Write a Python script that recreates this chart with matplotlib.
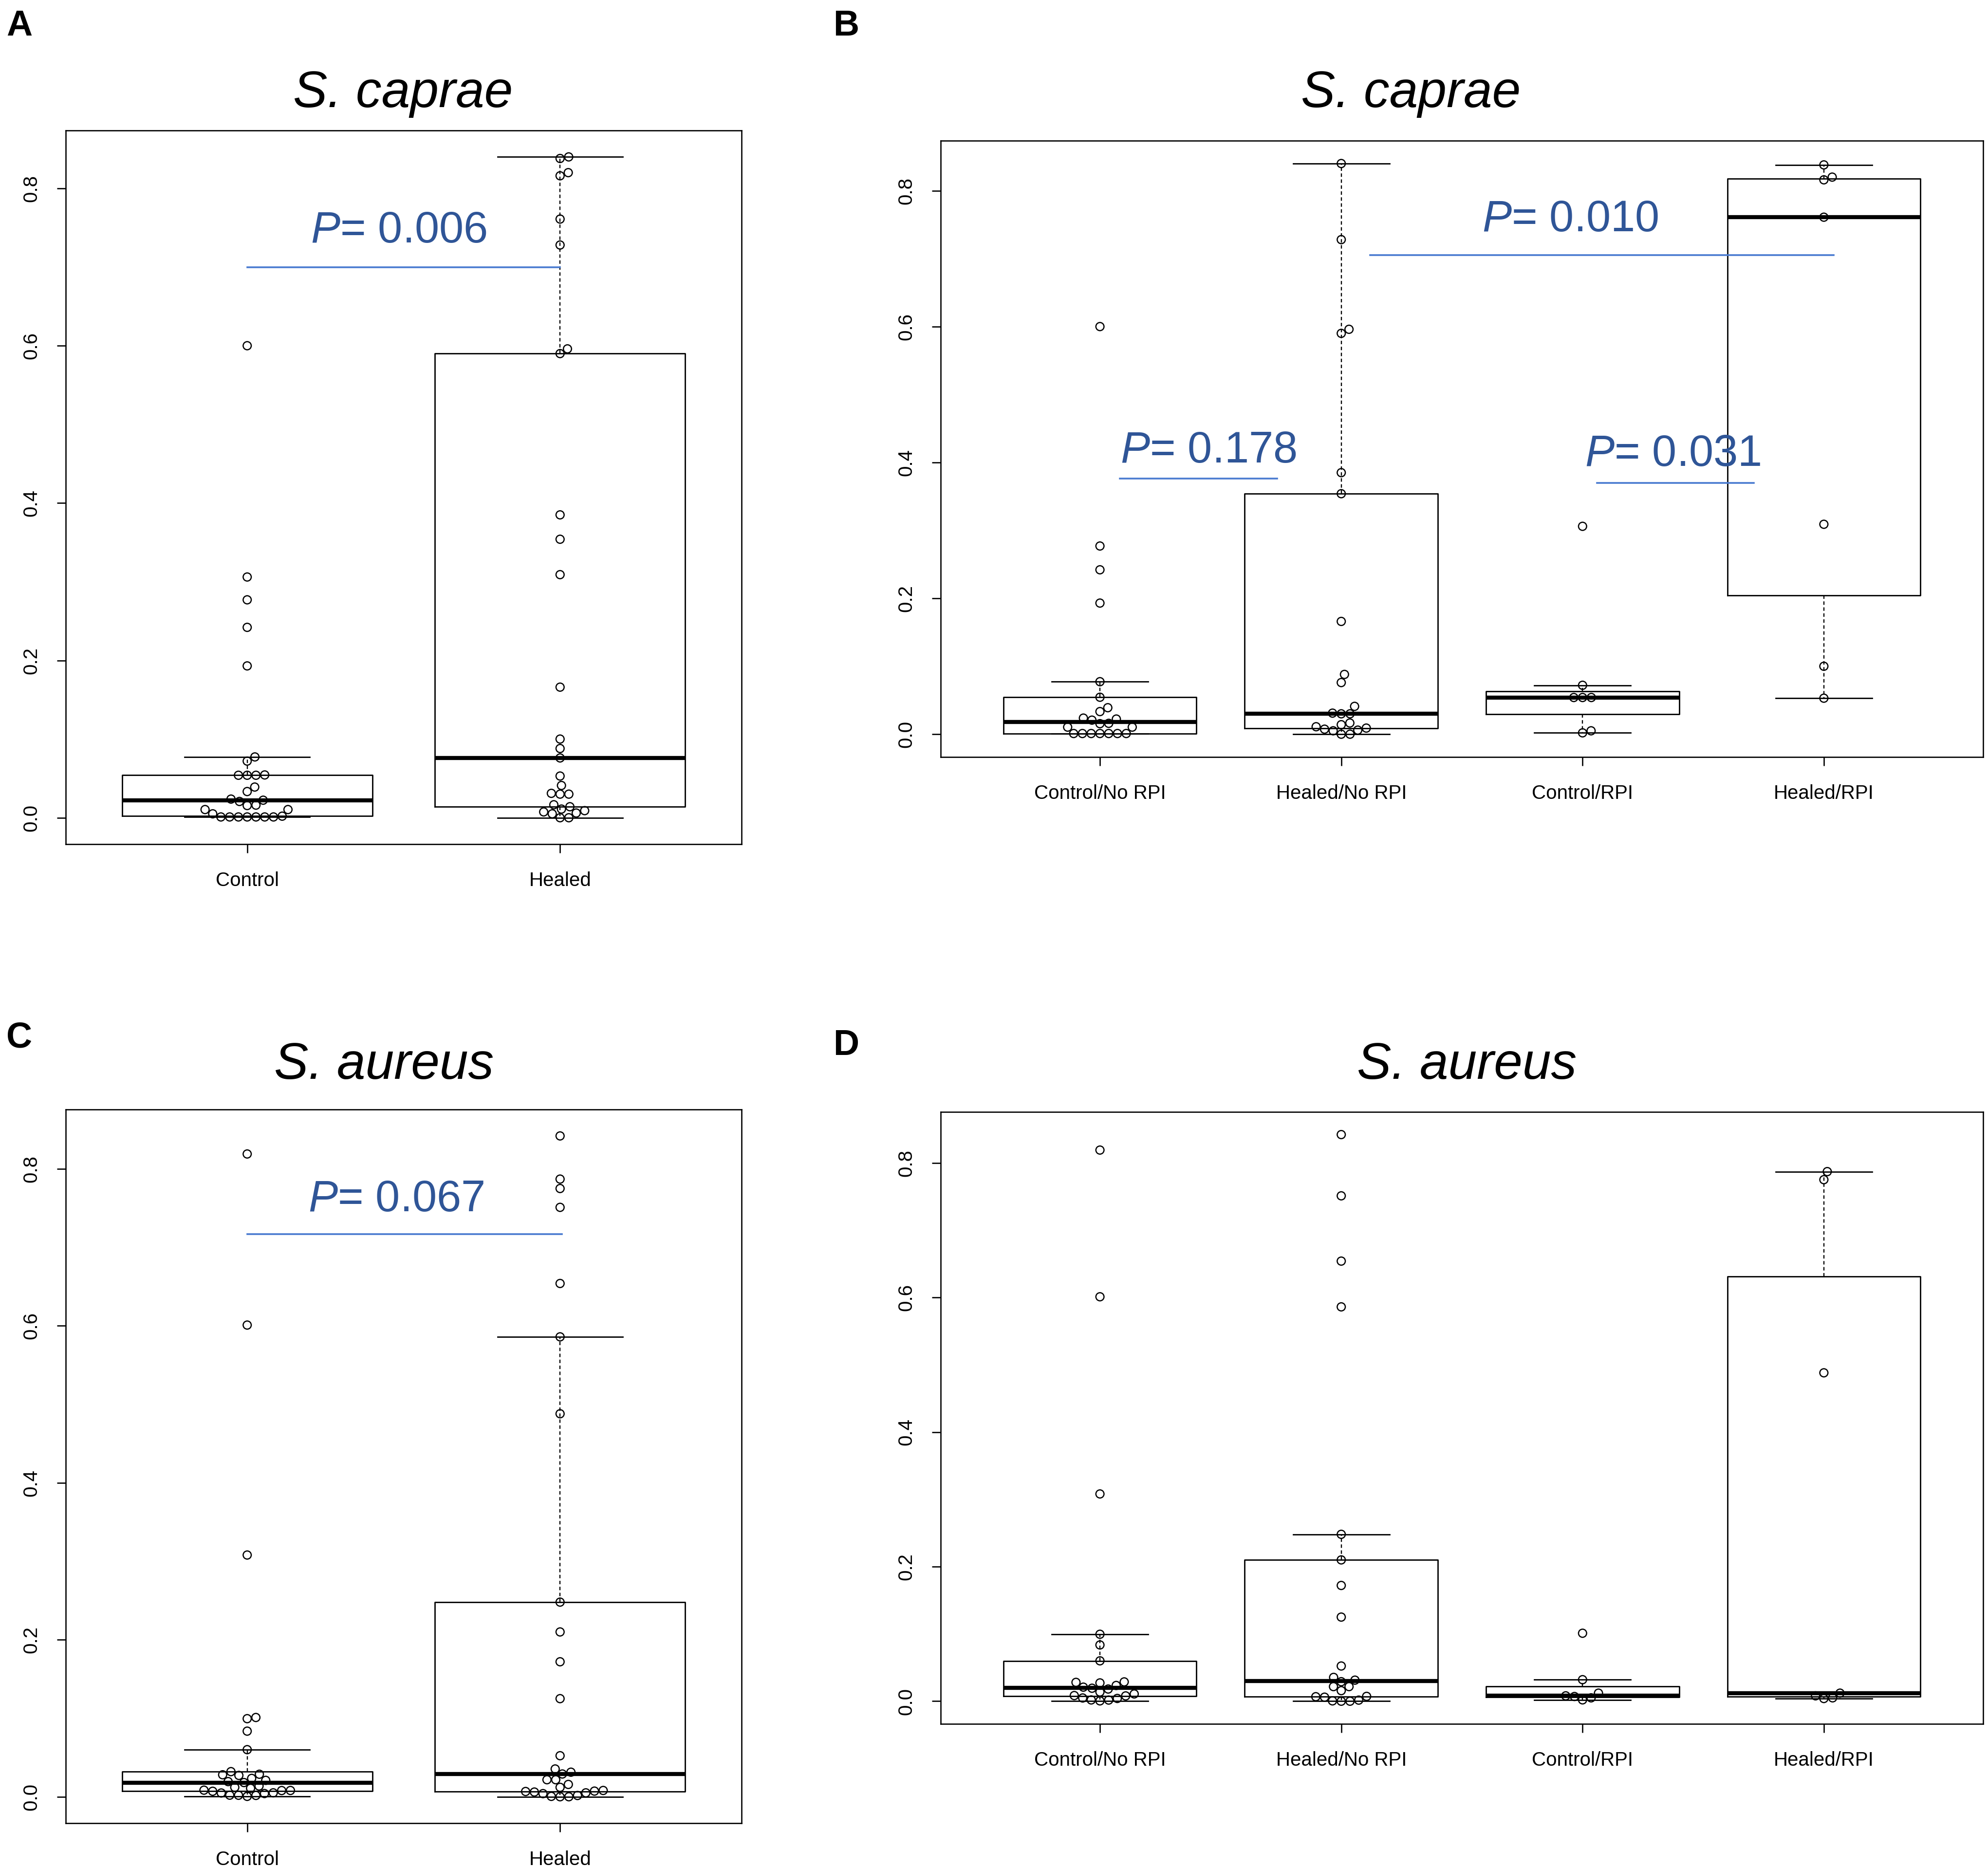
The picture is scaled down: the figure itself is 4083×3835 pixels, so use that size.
import math
import numpy as np
import matplotlib
matplotlib.use("Agg")
import matplotlib.pyplot as plt

plt.rcParams['font.family'] = ['Liberation Sans', 'DejaVu Sans']
plt.rcParams['mathtext.fontset'] = 'custom'
plt.rcParams['mathtext.rm'] = 'Liberation Sans'
plt.rcParams['mathtext.it'] = 'Liberation Sans:italic'

# relative abundance per sample
caprae_ctrl_norpi = [0.600, 0.277, 0.242, 0.193, 0.0773, 0.0544, 0.039, 0.0333, 0.0237, 0.0223,
                     0.0207, 0.016, 0.0155, 0.0104, 0.0104, 0.001, 0.001, 0.001, 0.001, 0.001,
                     0.001, 0.001]
caprae_ctrl_rpi = [0.306, 0.072, 0.054, 0.054, 0.054, 0.005, 0.002]
caprae_heal_norpi = [0.840, 0.728, 0.596, 0.590, 0.385, 0.354, 0.166, 0.088, 0.076, 0.041,
                     0.031, 0.030, 0.030, 0.0165, 0.014, 0.011, 0.009, 0.0074, 0.006, 0.005,
                     0.0, 0.0]
caprae_heal_rpi = [0.838, 0.820, 0.816, 0.761, 0.309, 0.100, 0.053]

aureus_ctrl_norpi = [0.819, 0.601, 0.308, 0.0995, 0.0836, 0.060, 0.0287, 0.028, 0.0272, 0.0234,
                     0.0209, 0.0193, 0.0181, 0.0137, 0.0108, 0.0084, 0.0079, 0.0048, 0.0041,
                     0.0019, 0.0017, 0.0005]
aureus_ctrl_rpi = [0.101, 0.032, 0.012, 0.008, 0.007, 0.005, 0.002]
aureus_heal_norpi = [0.842, 0.751, 0.654, 0.586, 0.248, 0.210, 0.172, 0.125, 0.0523, 0.0354,
                     0.0313, 0.029, 0.0217, 0.0217, 0.0157, 0.0072, 0.0067, 0.006, 0.0016,
                     0.0005, 0.0, 0.0]
aureus_heal_rpi = [0.787, 0.775, 0.488, 0.012, 0.008, 0.005, 0.004]

two_groups = ["Control", "Healed"]
four_groups = ["Control/No RPI", "Healed/No RPI", "Control/RPI", "Healed/RPI"]

W, H = 4083, 3835
BLUE_TXT = '#2F5597'
BLUE_LINE = '#4A7BD0'
PT_PX = 18.0  # swarm spacing in pixels


def fivenum(v):
    v = sorted(v)
    n = len(v)
    n4 = math.floor((n + 3) / 2) / 2
    d = [1, n4, (n + 1) / 2, n + 1 - n4, n]
    return [0.5 * (v[math.floor(x) - 1] + v[math.ceil(x) - 1]) for x in d]


def r_box_stats(v):
    lo, q1, med, q3, hi = fivenum(v)
    iqr = q3 - q1
    inside = [x for x in v if q1 - 1.5 * iqr <= x <= q3 + 1.5 * iqr]
    return dict(med=med, q1=q1, q3=q3, whislo=min(inside), whishi=max(inside), fliers=[])


def swarm_x(ax, values, pos):
    # beeswarm "swarm" placement, done in pixel space
    pts = ax.transData.transform(np.column_stack([np.full(len(values), pos), values]))
    yy = pts[:, 1] / PT_PX
    order = np.argsort(yy, kind='stable')
    off = np.zeros(len(values))
    placed = []
    for i in order:
        yi = yy[i]
        near = [(yj, oj) for yj, oj in placed if yi - yj < 1]
        if near:
            near.sort(key=lambda t: abs(t[1]))
            d = [math.sqrt(max(0.0, 1 - (yi - yj) ** 2)) for yj, oj in near]
            cands = [0.0] + [oj + dd for (yj, oj), dd in zip(near, d)] + \
                    [oj - dd for (yj, oj), dd in zip(near, d)]
            best = math.inf
            for c in cands:
                bad = any((yi - yj) ** 2 + (c - oj) ** 2 < 0.999 for yj, oj in near)
                if not bad and abs(c) < abs(best):
                    best = c
            off[i] = best
        placed.append((yi, off[i]))
    px_per_unit = ax.transData.transform([[1, 0]])[0, 0] - ax.transData.transform([[0, 0]])[0, 0]
    return pos + off * PT_PX / px_per_unit


def panel(rect_px, groups, labels):
    left, top, right, bottom = rect_px
    ax = fig.add_axes([left / W, 1 - bottom / H, (right - left) / W, (bottom - top) / H])
    n = len(groups)
    allv = np.concatenate(groups)
    rng = allv.max() - allv.min()
    ax.set_xlim(0.5 - 0.04 * n, n + 0.5 + 0.04 * n)
    ax.set_ylim(allv.min() - 0.04 * rng, allv.max() + 0.04 * rng)

    for k, g in enumerate(groups):
        xs = swarm_x(ax, g, k + 1)
        ax.scatter(xs, g, s=12 ** 2, facecolors='none', edgecolors='black',
                   linewidths=1.8, zorder=2)

    stats = [r_box_stats(g) for g in groups]
    ax.bxp(stats, positions=range(1, n + 1), widths=0.8, capwidths=0.4,
           showfliers=False, manage_ticks=False,
           boxprops=dict(color='black', lw=2.0),
           medianprops=dict(color='black', lw=6.0, solid_capstyle='butt'),
           whiskerprops=dict(color='black', lw=1.7, linestyle=(0, (3, 2.2))),
           capprops=dict(color='black', lw=2.0), zorder=3)

    ax.set_xticks(range(1, n + 1))
    ax.set_xticklabels(labels)
    ax.set_yticks([0.0, 0.2, 0.4, 0.6, 0.8])
    ax.set_yticklabels(['0.0', '0.2', '0.4', '0.6', '0.8'])
    ax.tick_params(axis='both', direction='out', length=13, width=1.9, labelsize=29)
    ax.tick_params(axis='x', pad=27)
    ax.tick_params(axis='y', pad=24, labelrotation=90)
    for lab in ax.get_yticklabels():
        lab.set_va('center')
    for sp in ax.spines.values():
        sp.set_linewidth(1.9)
    return ax


def pval(ax, text, xc, ybase, x0, x1, yline):
    ax.plot([x0, x1], [yline, yline], color=BLUE_LINE, lw=2.6, zorder=4)
    ax.text(xc, ybase, text, color=BLUE_TXT, fontsize=65, ha='center', va='baseline', zorder=5)


fig = plt.figure(figsize=(W / 100, H / 100), dpi=100)

ctrl_c = np.array(caprae_ctrl_norpi + caprae_ctrl_rpi)
heal_c = np.array(caprae_heal_norpi + caprae_heal_rpi)
ctrl_a = np.array(aureus_ctrl_norpi + aureus_ctrl_rpi)
heal_a = np.array(aureus_heal_norpi + aureus_heal_rpi)

axA = panel((135, 268, 1523, 1734), [ctrl_c, heal_c], two_groups)
pval(axA, r'$\mathit{P}$= 0.006', 1.484, 0.731, 1.0, 2.0, 0.700)

axB = panel((1932, 289, 4073, 1555),
            [np.array(caprae_ctrl_norpi), np.array(caprae_heal_norpi),
             np.array(caprae_ctrl_rpi), np.array(caprae_heal_rpi)], four_groups)
pval(axB, r'$\mathit{P}$= 0.178', 1.45, 0.400, 1.083, 1.735, 0.376)
pval(axB, r'$\mathit{P}$= 0.010', 2.95, 0.740, 2.119, 4.04, 0.705)
pval(axB, r'$\mathit{P}$= 0.031', 3.375, 0.395, 3.06, 3.71, 0.370)

axC = panel((135, 2279, 1523, 3745), [ctrl_a, heal_a], two_groups)
pval(axC, r'$\mathit{P}$= 0.067', 1.476, 0.746, 1.0, 2.005, 0.717)

axD = panel((1932, 2284, 4073, 3541),
            [np.array(aureus_ctrl_norpi), np.array(aureus_heal_norpi),
             np.array(aureus_ctrl_rpi), np.array(aureus_heal_rpi)], four_groups)

# titles and panel letters
for txt, x, y in [("S. caprae", 828, 220), ("S. caprae", 2898, 220),
                  ("S. aureus", 789, 2216), ("S. aureus", 3013, 2216)]:
    fig.text(x / W, 1 - y / H, txt, fontsize=76, fontstyle='italic', ha='center', va='baseline')

for txt, x, y in [("A", 13, 73), ("B", 1711, 73), ("C", 13, 2151), ("D", 1711, 2167)]:
    fig.text(x / W, 1 - y / H, txt, fontsize=53, fontweight='bold', ha='left', va='baseline')

fig.savefig("out.png", dpi=100, facecolor='white')
